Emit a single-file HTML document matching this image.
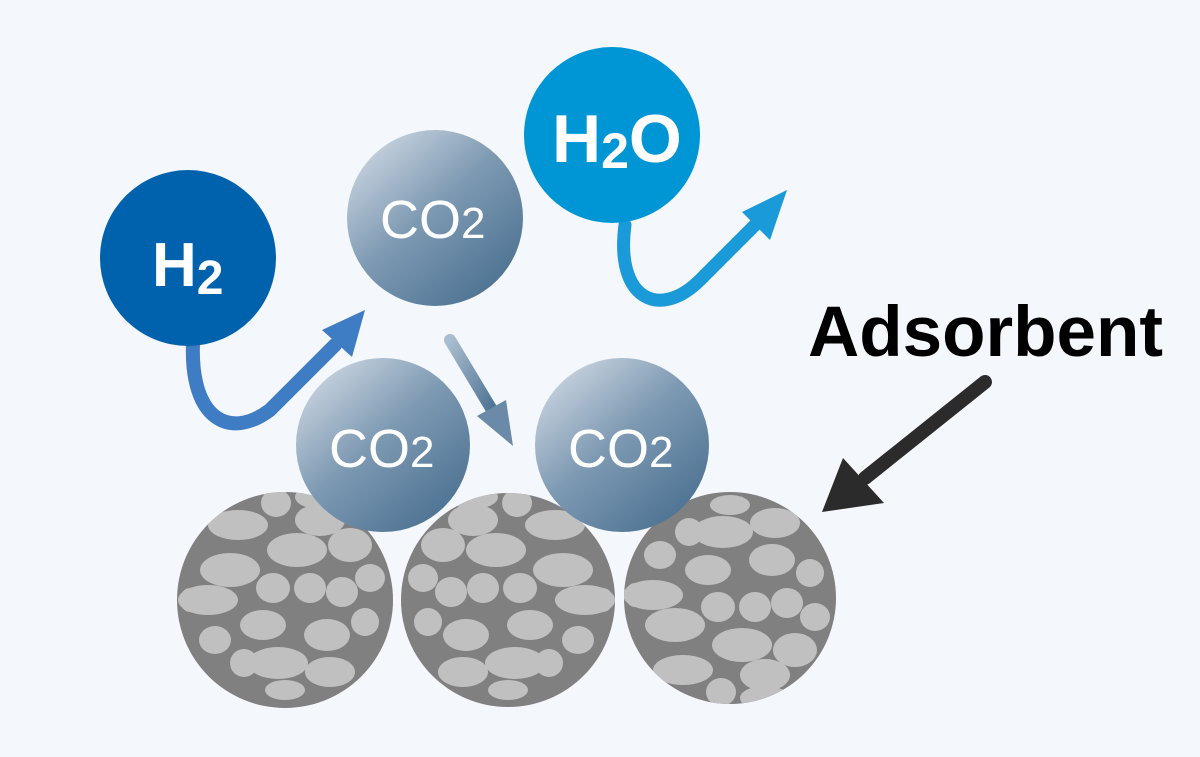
<!DOCTYPE html>
<html><head><meta charset="utf-8"><style>
html,body{margin:0;padding:0;background:#f4f7fb;}
svg{display:block}
</style></head><body>
<svg width="1200" height="757" viewBox="0 0 1200 757" xmlns="http://www.w3.org/2000/svg">
<defs>
<linearGradient id="co2" x1="0.15" y1="0.1" x2="0.85" y2="0.9">
<stop offset="0" stop-color="#c3cfdc"/><stop offset="0.45" stop-color="#7e9ab3"/><stop offset="1" stop-color="#4e7393"/>
</linearGradient>
<linearGradient id="sa" x1="0" y1="0" x2="1" y2="1">
<stop offset="0" stop-color="#a9bdd0"/><stop offset="1" stop-color="#4e7393"/>
</linearGradient>
<g id="blobs" fill="#c0c0c0">
<ellipse cx="238" cy="525" rx="30" ry="15"/><ellipse cx="276" cy="503" rx="15" ry="14"/>
<ellipse cx="320" cy="520" rx="25" ry="16"/><ellipse cx="297" cy="550" rx="30" ry="17"/>
<ellipse cx="350" cy="545" rx="22" ry="17"/><ellipse cx="230" cy="570" rx="30" ry="17"/>
<ellipse cx="273" cy="588" rx="17" ry="15"/><ellipse cx="310" cy="588" rx="16" ry="15"/>
<ellipse cx="342" cy="592" rx="16" ry="15"/><ellipse cx="208" cy="600" rx="30" ry="15"/>
<ellipse cx="215" cy="640" rx="16" ry="14"/><ellipse cx="263" cy="625" rx="23" ry="15"/>
<ellipse cx="327" cy="635" rx="23" ry="16"/><ellipse cx="365" cy="622" rx="14" ry="14"/>
<ellipse cx="370" cy="578" rx="15" ry="14"/><ellipse cx="244" cy="663" rx="14" ry="14"/>
<ellipse cx="278" cy="663" rx="30" ry="16"/><ellipse cx="330" cy="672" rx="25" ry="15"/>
<ellipse cx="320" cy="497" rx="25" ry="12"/><ellipse cx="190" cy="600" rx="10" ry="12"/>
<ellipse cx="285" cy="690" rx="20" ry="10"/>
</g>
<clipPath id="c1"><rect x="170" y="490" width="700" height="220"/></clipPath>
</defs>

<g clip-path="url(#c1)">
<clipPath id="k1"><circle cx="285" cy="600" r="108"/></clipPath>
<circle cx="285" cy="600" r="108" fill="#808080"/>
<g clip-path="url(#k1)"><use href="#blobs"/></g>
<clipPath id="k2"><circle cx="508" cy="600" r="107"/></clipPath>
<circle cx="508" cy="600" r="107" fill="#808080"/>
<g clip-path="url(#k2)"><use href="#blobs" transform="translate(793,0) scale(-1,1)"/></g>
<clipPath id="k3"><circle cx="730" cy="598" r="106"/></clipPath>
<circle cx="730" cy="598" r="106" fill="#808080"/>
<g clip-path="url(#k3)"><use href="#blobs" transform="translate(445,1195) scale(1,-1)"/></g>
</g>

<path d="M193,343 C190,420 230,440 270,410 L335,345" fill="none" stroke="#3e7cc3" stroke-width="14" stroke-linecap="round"/>
<polygon points="365,310 322,330 352,357" fill="#3e7cc3"/>
<path d="M625,225 C615,300 660,320 700,280 L755,225" fill="none" stroke="#1a9ad9" stroke-width="13" stroke-linecap="round"/>
<polygon points="787,190 742,212 770,240" fill="#1a9ad9"/>
<path d="M450,340 L492,410" stroke="url(#sa)" stroke-width="12" stroke-linecap="round"/>
<polygon points="513,446 477,416 506,400" fill="#6a8aa8"/>
<path d="M985,382 L865,478" stroke="#2b2b2b" stroke-width="14" stroke-linecap="round"/>
<polygon points="822,512 843,458 884,503" fill="#2b2b2b"/>

<circle cx="188" cy="258" r="88" fill="#0062ad"/>
<text x="152" y="286" font-family="Liberation Sans, sans-serif" font-weight="bold" font-size="62" fill="#fff">H<tspan font-size="48" dy="8">2</tspan></text>
<circle cx="435" cy="218" r="88" fill="url(#co2)"/>
<text x="380" y="238" font-family="Liberation Sans, sans-serif" font-size="54" fill="#fff">CO<tspan font-size="44">2</tspan></text>
<circle cx="612" cy="135" r="88" fill="#0096d6"/>
<text x="552" y="162" font-family="Liberation Sans, sans-serif" font-weight="bold" font-size="68" fill="#fff">H<tspan font-size="50" dy="6">2</tspan><tspan dy="-6">O</tspan></text>
<circle cx="383" cy="445" r="87" fill="url(#co2)"/>
<text x="329" y="467" font-family="Liberation Sans, sans-serif" font-size="54" fill="#fff">CO<tspan font-size="44">2</tspan></text>
<circle cx="622" cy="445" r="87" fill="url(#co2)"/>
<text x="568" y="467" font-family="Liberation Sans, sans-serif" font-size="54" fill="#fff">CO<tspan font-size="44">2</tspan></text>

<text x="808" y="356" font-family="Liberation Sans, sans-serif" font-weight="bold" font-size="71" fill="#000">Adsorbent</text>
</svg>
</body></html>
